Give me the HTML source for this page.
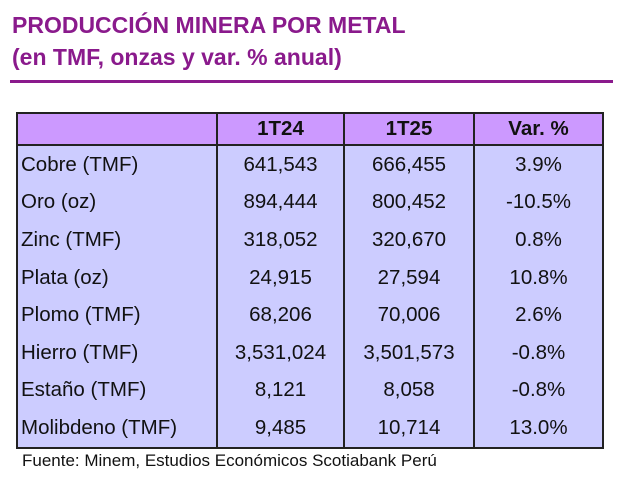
<!DOCTYPE html>
<html><head><meta charset="utf-8"><style>
body{margin:0;width:620px;height:483px;background:#fff;position:relative;font-family:"Liberation Sans",sans-serif;overflow:hidden}
.t{position:absolute;left:12px;color:#8a1a8c;font-weight:bold;font-size:23px;letter-spacing:0px}
.rule{position:absolute;left:10px;top:80px;width:603px;height:3px;background:#8a1a8c}
table{position:absolute;left:16px;top:112px;border-collapse:collapse;border:2px solid #222}
td,th{border-left:2px solid #222;border-right:2px solid #222;padding:0;font-size:20.5px;color:#111}
th{background:#cc99ff;height:30px;border-bottom:2px solid #222;font-weight:bold}
td{background:#ccccff;height:37.6px;text-align:center}
td:first-child{text-align:left;padding-left:3px}
.src{position:absolute;left:22px;top:451px;font-size:17px;color:#111}
</style></head><body>
<div class="t" style="top:12px">PRODUCCIÓN MINERA POR METAL</div>
<div class="t" style="top:44px">(en TMF, onzas y var. % anual)</div>
<div class="rule"></div>
<table>
<tr><th style="width:198px"></th><th style="width:125px">1T24</th><th style="width:128px">1T25</th><th style="width:127px">Var. %</th></tr>
<tr><td>Cobre (TMF)</td><td>641,543</td><td>666,455</td><td>3.9%</td></tr>
<tr><td>Oro (oz)</td><td>894,444</td><td>800,452</td><td>-10.5%</td></tr>
<tr><td>Zinc (TMF)</td><td>318,052</td><td>320,670</td><td>0.8%</td></tr>
<tr><td>Plata (oz)</td><td>24,915</td><td>27,594</td><td>10.8%</td></tr>
<tr><td>Plomo (TMF)</td><td>68,206</td><td>70,006</td><td>2.6%</td></tr>
<tr><td>Hierro (TMF)</td><td>3,531,024</td><td>3,501,573</td><td>-0.8%</td></tr>
<tr><td>Estaño (TMF)</td><td>8,121</td><td>8,058</td><td>-0.8%</td></tr>
<tr><td>Molibdeno (TMF)</td><td>9,485</td><td>10,714</td><td>13.0%</td></tr>
</table>
<div class="src">Fuente: Minem, Estudios Económicos Scotiabank Perú</div>
</body></html>
